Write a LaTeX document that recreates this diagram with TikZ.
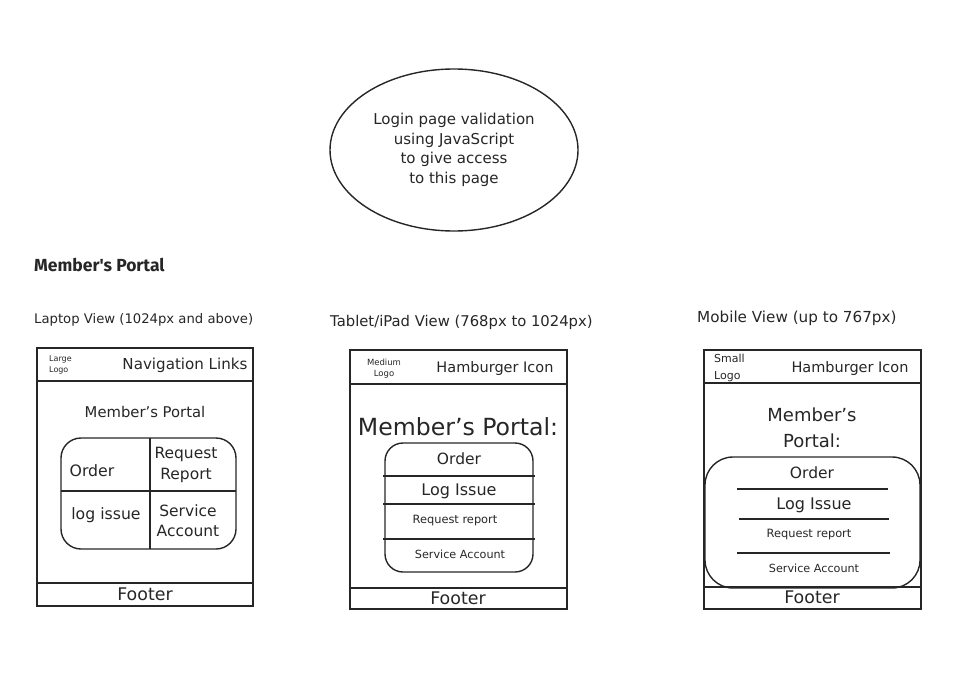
\documentclass[tikz,border=0pt]{standalone}
\usepackage{fontspec}
\setmainfont{DejaVu Sans}
\newfontfamily\headfont{Fira Sans}
\usetikzlibrary{shapes.geometric}
\tikzset{
  frame/.style={line width=1.4pt, draw=black!85},
  rule/.style={line width=1.8pt, draw=black!85},
  fsz/.style={font=\fontsize{#1}{1.3\dimexpr#1pt\relax}\selectfont},
  lbl/.style={inner sep=0pt, text=black!85},
}
\begin{document}
\begin{tikzpicture}[x=1pt,y=-1pt]
        \useasboundingbox (0,0) rectangle (955,685);
        %% login note
        \node[ellipse, frame, minimum width=248pt, minimum height=162pt, lbl, align=center, fsz=15] (login) at (454,150)
          {Login page validation\\using JavaScript\\to give access\\to this page};
        %% headings
        \node[lbl, anchor=west, font=\headfont\bfseries\fontsize{17.5}{20}\selectfont] (heading) at (34,265) {Member's Portal};
        \node[lbl, anchor=west, fsz=13.2] (laptopview) at (34,320) {Laptop View (1024px and above)};
        \node[lbl, anchor=west, fsz=14.8] (tabletview) at (330,322) {Tablet/iPad View (768px to 1024px)};
        \node[lbl, anchor=west, fsz=15.2] (mobileview) at (697,318) {Mobile View (up to 767px)};
        %% laptop view
        \draw[frame] (37,348) rectangle (253,606);
        \draw[rule] (37,381) -- (253,381);
        \draw[rule] (37,583) -- (253,583);
        \node[lbl, anchor=west, align=left, fsz=8] (lplogo) at (49,365) {Large\\Logo};
        \node[lbl, fsz=15.1] (lpnav) at (185,365) {Navigation Links};
        \node[lbl, fsz=14.8] (lptitle) at (145,412) {Member's Portal};
        \draw[frame, rounded corners=20pt] (61,438) rectangle (236,549);
        \draw[rule] (150,438) -- (150,549);
        \draw[rule] (61,491) -- (236,491);
        \node[lbl, fsz=15.7] (lporder) at (92,471) {Order};
        \node[lbl, fsz=15.5, align=center] (lprequest) at (186,465) {Request\\Report};
        \node[lbl, fsz=15.7] (lpissue) at (106,515) {log issue};
        \node[lbl, fsz=15.5, align=center] (lpservice) at (188,521) {Service\\Account};
        \node[lbl, fsz=17.4] (lpfooter) at (145,594) {Footer};
        %% tablet view
        \draw[frame] (350,350) rectangle (567,609);
        \draw[rule] (350,384) -- (567,384);
        \draw[rule] (350,588) -- (567,588);
        \node[lbl, align=center, fsz=8.5] (tblogo) at (384,369) {Medium\\Logo};
        \node[lbl, fsz=14.5] (tbnav) at (495,368) {Hamburger Icon};
        \node[lbl, fsz=23.6] (tbtitle) at (458,427) {Member's Portal:};
        \draw[frame, rounded corners=18pt] (385,443) rectangle (533,572);
        \draw[rule] (383,476) -- (535,476);
        \draw[rule] (383,504) -- (535,504);
        \draw[rule] (383,539) -- (535,539);
        \node[lbl, fsz=15.5] (tborder) at (459,459) {Order};
        \node[lbl, fsz=16] (tbissue) at (459,491) {Log Issue};
        \node[lbl, fsz=11.4] (tbrequest) at (455,521) {Request report};
        \node[lbl, fsz=11.2] (tbservice) at (460,554) {Service Account};
        \node[lbl, fsz=17.4] (tbfooter) at (458,598) {Footer};
        %% mobile view
        \draw[frame] (704,350) rectangle (921,609);
        \draw[rule] (704,383) -- (921,383);
        \draw[rule] (704,587) -- (921,587);
        \node[lbl, anchor=west, align=left, font=\fontsize{11}{17}\selectfont] (mblogo) at (714,368) {Small\\Logo};
        \node[lbl, fsz=14.5] (mbnav) at (850,368) {Hamburger Icon};
        \node[lbl, align=center, font=\fontsize{18}{26}\selectfont] (mbtitle) at (812,428) {Member's\\Portal:};
        \draw[frame, rounded corners=28pt] (705,457) rectangle (920,588);
        \draw[rule] (737,489) -- (888,489);
        \draw[rule] (739,519) -- (889,519);
        \draw[rule] (737,553) -- (890,553);
        \node[lbl, fsz=15.5] (mborder) at (812,473) {Order};
        \node[lbl, fsz=16] (mbissue) at (814,505) {Log Issue};
        \node[lbl, fsz=11.4] (mbrequest) at (809,535) {Request report};
        \node[lbl, fsz=11.2] (mbservice) at (814,568) {Service Account};
        \node[lbl, fsz=17.4] (mbfooter) at (812,597) {Footer};
\end{tikzpicture}
\end{document}
